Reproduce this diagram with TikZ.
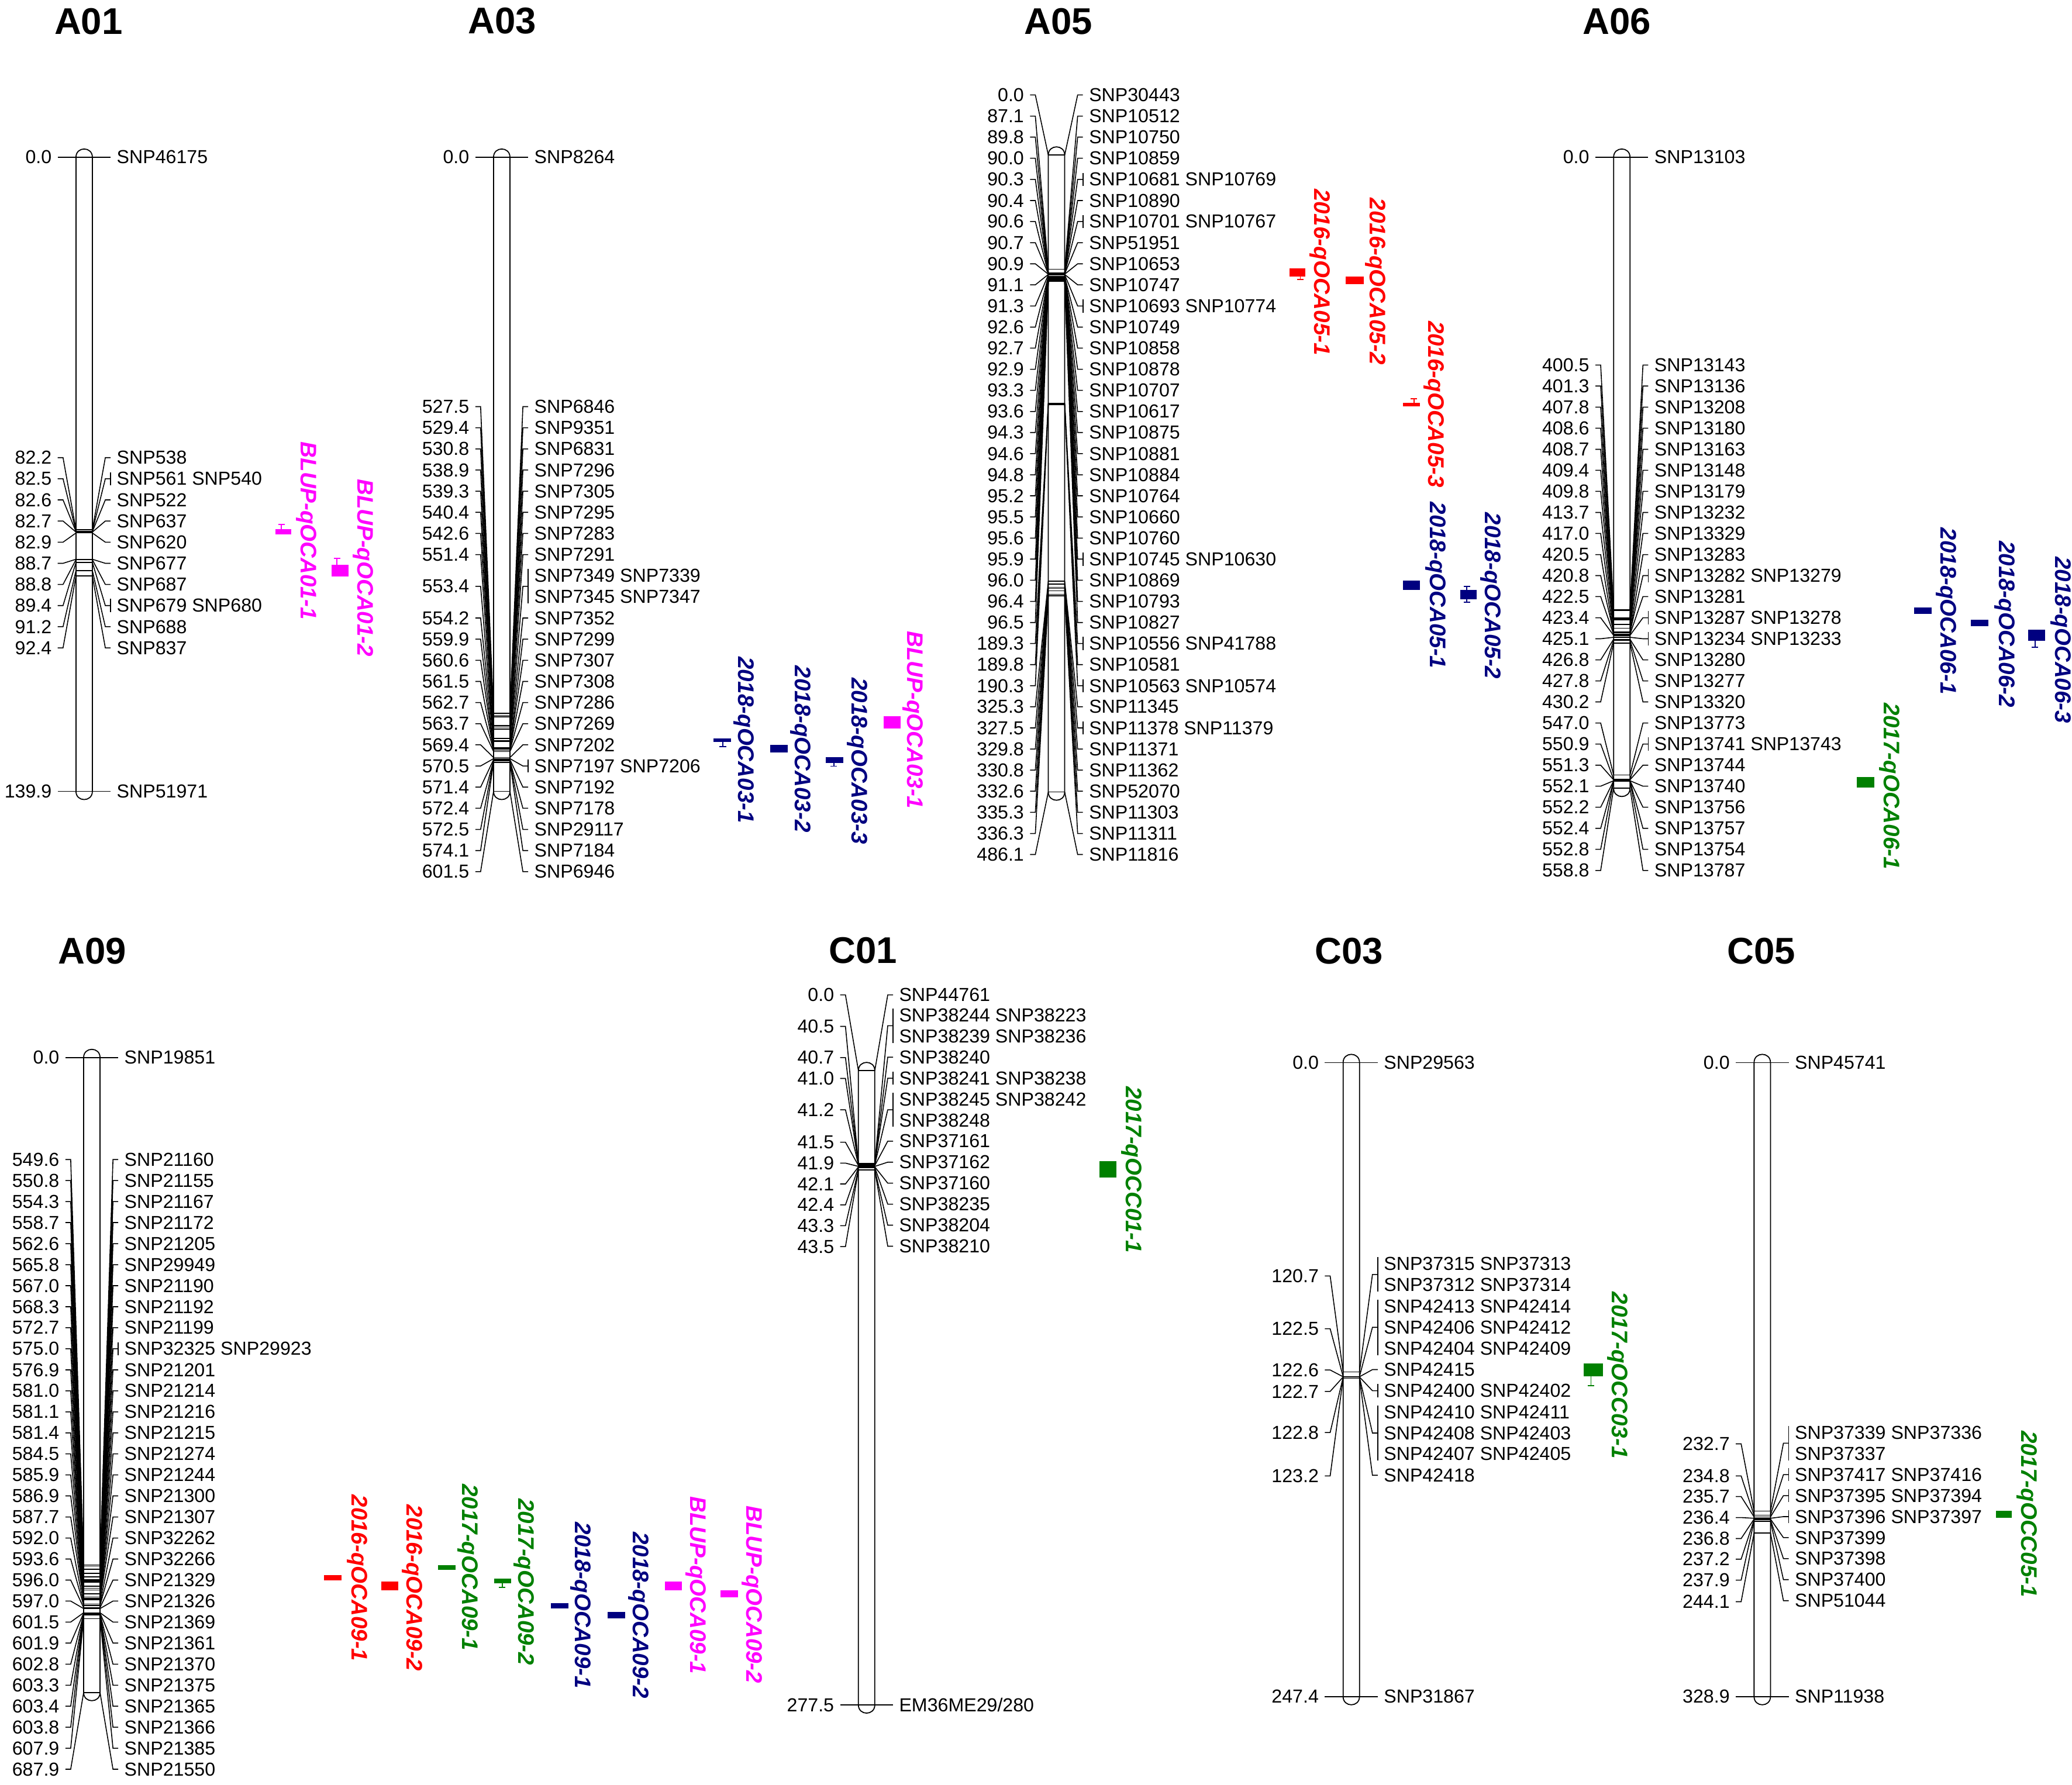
\documentclass[tikz,border=0pt]{standalone}
\usepackage{fontspec}
\setmainfont{Liberation Sans}
\definecolor{qtlred}{RGB}{255,0,0}
\definecolor{qtlgreen}{RGB}{0,128,0}
\definecolor{qtlnavy}{RGB}{0,0,128}
\definecolor{qtlpink}{RGB}{255,0,255}

\tikzset{
  chrom/.style={draw, fill=white, line width=0.45pt},
  link/.style={line width=0.4pt},
  posnum/.style={font=\fontsize{8.1}{9.03}\selectfont, inner sep=0pt},
  snpname/.style={font=\fontsize{8.1}{9.03}\selectfont, inner sep=0pt, align=left},
  chrname/.style={font=\fontsize{16}{18}\selectfont\bfseries, inner sep=0pt},
  qtlname/.style={font=\fontsize{9.7}{11}\selectfont\bfseries\itshape, rotate=-90, inner sep=0pt},
}

% linkage group bar: x, top, bottom, length (cM)
\newcommand{\linkgroup}[4]{%
  \def\chrx{#1}\def\chrt{#2}\def\chrb{#3}\def\chrl{#4}%
  \draw[chrom] (#1-6.2,#2) -- (#1-6.2,#3)
    .. controls (#1-6.2,#3+8.3) and (#1+6.2,#3+8.3) .. (#1+6.2,#3)
    -- (#1+6.2,#2) .. controls (#1+6.2,#2-8.3) and (#1-6.2,#2-8.3) .. cycle;}

% one marker: cM, left row, right row, bracket half height, names
\newcommand{\snpmark}[5]{%
  \pgfmathsetmacro\mky{\chrt+#1/\chrl*(\chrb-\chrt)}%
  \draw[link] (\chrx-6.2,\mky) -- (\chrx+6.2,\mky);
  \draw[link] (\chrx-6.2,\mky) -- (\chrx-16,#2) -- (\chrx-20,#2);
  \draw[link] (\chrx+6.2,\mky) -- (\chrx+16,#3) -- (\chrx+20,#3);
  \ifdim #4pt>0pt \draw[link] (\chrx+20,#3-#4) -- (\chrx+20,#3+#4);\fi
  \node[posnum, anchor=east] at (\chrx-24.3,#2) {#1};
  \node[snpname, anchor=west] at (\chrx+24.3,#3) {#5};}

% QTL: colour, box x1, x2, y1, y2, label x, label y, name
\newcommand{\qtlbox}[8]{%
  \fill[#1] (#2,#4) rectangle (#3,#5);
  \node[qtlname, text=#1] at (#6,#7) {#8};}
\newcommand{\qtlwhisk}[4]{%
  \draw[#1, line width=0.45pt] (#2,#3) -- (#2,#4) (#2-2.5,#4) -- (#2+2.5,#4);}

\newcommand{\emlab}{EM36ME29/280}

\begin{document}
\begin{tikzpicture}[x=0.02cm, y=-0.02cm]
\useasboundingbox (0,0) rectangle (1568,1351);

% group titles
\node[chrname] (tA01) at (67,16) {A01};
\node[chrname] (tA03) at (380,16) {A03};
\node[chrname] (tA05) at (801,16) {A05};
\node[chrname] (tA06) at (1223.5,16) {A06};
\node[chrname] (tA09) at (69.7,720) {A09};
\node[chrname] (tC01) at (653,719.5) {C01};
\node[chrname] (tC03) at (1021,720) {C03};
\node[chrname] (tC05) at (1333,720) {C05};

% A01
\linkgroup{63.7}{119}{599}{139.9}
\foreach \mpos/\lrow/\rrow/\brk/\names in {
  0.0/119/119/0/SNP46175, 82.2/346.4/346.4/0/SNP538,
  82.5/362.4/362.4/5/SNP561 SNP540, 82.6/378.4/378.4/0/SNP522,
  82.7/394.4/394.4/0/SNP637, 82.9/410.4/410.4/0/SNP620,
  88.7/426.4/426.4/0/SNP677, 88.8/442.4/442.4/0/SNP687,
  89.4/458.4/458.4/5/SNP679 SNP680, 91.2/474.4/474.4/0/SNP688,
  92.4/490.4/490.4/0/SNP837, 139.9/599/599/0/SNP51971}
  {\snpmark{\mpos}{\lrow}{\rrow}{\brk}{\names}}
\qtlbox{qtlpink}{208.5}{220.3}{400.5}{404.4}{231.7}{401.7}{BLUP-qOCA01-1}
\qtlwhisk{qtlpink}{213}{400.5}{397}
\qtlbox{qtlpink}{251}{263.8}{427.4}{436.3}{275}{429.8}{BLUP-qOCA01-2}
\qtlwhisk{qtlpink}{255}{427.4}{422.5}

% A03
\linkgroup{379.7}{119}{599}{601.5}
\foreach \mpos/\lrow/\rrow/\brk/\names in {
  0.0/119/119/0/SNP8264, 527.5/307.8/307.8/0/SNP6846,
  529.4/323.8/323.8/0/SNP9351, 530.8/339.8/339.8/0/SNP6831,
  538.9/355.8/355.8/0/SNP7296, 539.3/371.8/371.8/0/SNP7305,
  540.4/387.8/387.8/0/SNP7295, 542.6/403.8/403.8/0/SNP7283,
  551.4/419.8/419.8/0/SNP7291,
  553.4/443.8/443.8/13/SNP7349 SNP7339\\SNP7345 SNP7347,
  554.2/467.8/467.8/0/SNP7352, 559.9/483.8/483.8/0/SNP7299,
  560.6/499.8/499.8/0/SNP7307, 561.5/515.8/515.8/0/SNP7308,
  562.7/531.8/531.8/0/SNP7286, 563.7/547.8/547.8/0/SNP7269,
  569.4/563.8/563.8/0/SNP7202, 570.5/579.8/579.8/5/SNP7197 SNP7206,
  571.4/595.8/595.8/0/SNP7192, 572.4/611.8/611.8/0/SNP7178,
  572.5/627.8/627.8/0/SNP29117, 574.1/643.8/643.8/0/SNP7184,
  601.5/659.8/659.8/0/SNP6946}
  {\snpmark{\mpos}{\lrow}{\rrow}{\brk}{\names}}
\qtlbox{qtlnavy}{540}{553}{558.8}{561.7}{562.7}{560}{2018-qOCA03-1}
\qtlwhisk{qtlnavy}{547}{561.7}{565}
\qtlbox{qtlnavy}{583}{596}{563.7}{569.6}{606}{567}{2018-qOCA03-2}
\qtlbox{qtlnavy}{625}{638}{573}{577.5}{648.6}{576}{2018-qOCA03-3}
\qtlwhisk{qtlnavy}{631}{577.5}{580}
\qtlbox{qtlpink}{668.5}{681.5}{542.3}{551.5}{691}{545}{BLUP-qOCA03-1}

% A05
\linkgroup{799.5}{117.4}{599.5}{486.1}
\foreach \mpos/\lrow/\rrow/\brk/\names in {
  0.0/71.9/71.9/0/SNP30443, 87.1/87.9/87.9/0/SNP10512,
  89.8/103.8/103.8/0/SNP10750, 90.0/119.8/119.8/0/SNP10859,
  90.3/135.8/135.8/5/SNP10681 SNP10769, 90.4/151.8/151.8/0/SNP10890,
  90.6/167.7/167.7/5/SNP10701 SNP10767, 90.7/183.7/183.7/0/SNP51951,
  90.9/199.7/199.7/0/SNP10653, 91.1/215.6/215.6/0/SNP10747,
  91.3/231.6/231.6/5/SNP10693 SNP10774, 92.6/247.6/247.6/0/SNP10749,
  92.7/263.5/263.5/0/SNP10858, 92.9/279.5/279.5/0/SNP10878,
  93.3/295.5/295.5/0/SNP10707, 93.6/311.5/311.5/0/SNP10617,
  94.3/327.4/327.4/0/SNP10875, 94.6/343.4/343.4/0/SNP10881,
  94.8/359.4/359.4/0/SNP10884, 95.2/375.3/375.3/0/SNP10764,
  95.5/391.3/391.3/0/SNP10660, 95.6/407.3/407.3/0/SNP10760,
  95.9/423.2/423.2/5/SNP10745 SNP10630, 96.0/439.2/439.2/0/SNP10869,
  96.4/455.2/455.2/0/SNP10793, 96.5/471.2/471.2/0/SNP10827,
  189.3/487.1/487.1/5/SNP10556 SNP41788, 189.8/503.1/503.1/0/SNP10581,
  190.3/519.1/519.1/5/SNP10563 SNP10574, 325.3/535.0/535.0/0/SNP11345,
  327.5/551.0/551.0/5/SNP11378 SNP11379, 329.8/567.0/567.0/0/SNP11371,
  330.8/582.9/582.9/0/SNP11362, 332.6/598.9/598.9/0/SNP52070,
  335.3/614.9/614.9/0/SNP11303, 336.3/630.9/630.9/0/SNP11311,
  486.1/646.8/646.8/0/SNP11816}
  {\snpmark{\mpos}{\lrow}{\rrow}{\brk}{\names}}
\qtlbox{qtlred}{976}{988}{203.3}{209.2}{999}{206}{2016-qOCA05-1}
\qtlwhisk{qtlred}{984}{209.2}{211.5}
\qtlbox{qtlred}{1018.5}{1032}{209.2}{215.1}{1041}{213}{2016-qOCA05-2}
\qtlbox{qtlred}{1061.7}{1074.4}{305}{307.5}{1085}{306}{2016-qOCA05-3}
\qtlwhisk{qtlred}{1070}{305}{302}
\qtlbox{qtlnavy}{1061.7}{1074.4}{439.6}{446.4}{1086.5}{443}{2018-qOCA05-1}
\qtlbox{qtlnavy}{1105}{1117.6}{446.5}{453.5}{1128}{451}{2018-qOCA05-2}
\qtlwhisk{qtlnavy}{1110}{446.5}{444}
\qtlwhisk{qtlnavy}{1110}{453.5}{456}

% A06
\linkgroup{1227.3}{119}{596.7}{558.8}
\foreach \mpos/\lrow/\rrow/\brk/\names in {
  0.0/119/119/0/SNP13103, 400.5/276.3/276.3/0/SNP13143,
  401.3/292.2/292.2/0/SNP13136, 407.8/308.2/308.2/0/SNP13208,
  408.6/324.1/324.1/0/SNP13180, 408.7/340.1/340.1/0/SNP13163,
  409.4/356.0/356.0/0/SNP13148, 409.8/371.9/371.9/0/SNP13179,
  413.7/387.9/387.9/0/SNP13232, 417.0/403.8/403.8/0/SNP13329,
  420.5/419.8/419.8/0/SNP13283, 420.8/435.7/435.7/5/SNP13282 SNP13279,
  422.5/451.6/451.6/0/SNP13281, 423.4/467.6/467.6/5/SNP13287 SNP13278,
  425.1/483.5/483.5/5/SNP13234 SNP13233, 426.8/499.5/499.5/0/SNP13280,
  427.8/515.4/515.4/0/SNP13277, 430.2/531.3/531.3/0/SNP13320,
  547.0/547.3/547.3/0/SNP13773, 550.9/563.2/563.2/5/SNP13741 SNP13743,
  551.3/579.2/579.2/0/SNP13744, 552.1/595.1/595.1/0/SNP13740,
  552.2/611.0/611.0/0/SNP13756, 552.4/627.0/627.0/0/SNP13757,
  552.8/642.9/642.9/0/SNP13754, 558.8/658.9/658.9/0/SNP13787}
  {\snpmark{\mpos}{\lrow}{\rrow}{\brk}{\names}}
\qtlbox{qtlnavy}{1448.3}{1461.7}{459.8}{464.6}{1473}{462.6}{2018-qOCA06-1}
\qtlbox{qtlnavy}{1491.2}{1504.6}{469.1}{473.9}{1517}{472.5}{2018-qOCA06-2}
\qtlbox{qtlnavy}{1534.6}{1547.5}{476.7}{485.2}{1559.5}{484.5}{2018-qOCA06-3}
\qtlwhisk{qtlnavy}{1540}{485.2}{490}
\qtlbox{qtlgreen}{1404.9}{1418.3}{588.2}{596.1}{1430}{595}{2017-qOCA06-1}

% A09
\linkgroup{69.5}{800.5}{1281.1}{687.9}
\foreach \mpos/\lrow/\rrow/\brk/\names in {
  0.0/800.5/800.5/0/SNP19851, 549.6/877.7/877.7/0/SNP21160,
  550.8/893.6/893.6/0/SNP21155, 554.3/909.5/909.5/0/SNP21167,
  558.7/925.4/925.4/0/SNP21172, 562.6/941.4/941.4/0/SNP21205,
  565.8/957.3/957.3/0/SNP29949, 567.0/973.2/973.2/0/SNP21190,
  568.3/989.1/989.1/0/SNP21192, 572.7/1005.0/1005.0/0/SNP21199,
  575.0/1020.9/1020.9/5/SNP32325 SNP29923, 576.9/1036.9/1036.9/0/SNP21201,
  581.0/1052.8/1052.8/0/SNP21214, 581.1/1068.7/1068.7/0/SNP21216,
  581.4/1084.6/1084.6/0/SNP21215, 584.5/1100.5/1100.5/0/SNP21274,
  585.9/1116.4/1116.4/0/SNP21244, 586.9/1132.3/1132.3/0/SNP21300,
  587.7/1148.3/1148.3/0/SNP21307, 592.0/1164.2/1164.2/0/SNP32262,
  593.6/1180.1/1180.1/0/SNP32266, 596.0/1196.0/1196.0/0/SNP21329,
  597.0/1211.9/1211.9/0/SNP21326, 601.5/1227.8/1227.8/0/SNP21369,
  601.9/1243.7/1243.7/0/SNP21361, 602.8/1259.7/1259.7/0/SNP21370,
  603.3/1275.6/1275.6/0/SNP21375, 603.4/1291.5/1291.5/0/SNP21365,
  603.8/1307.4/1307.4/0/SNP21366, 607.9/1323.3/1323.3/0/SNP21385,
  687.9/1339.2/1339.2/0/SNP21550}
  {\snpmark{\mpos}{\lrow}{\rrow}{\brk}{\names}}
\qtlbox{qtlred}{245.3}{258.5}{1192.2}{1196.1}{270.5}{1194.5}{2016-qOCA09-1}
\qtlbox{qtlred}{288.4}{301.6}{1197.2}{1203.8}{312}{1202}{2016-qOCA09-2}
\qtlbox{qtlgreen}{331.6}{344.9}{1184.6}{1188.3}{354}{1186.4}{2017-qOCA09-1}
\qtlbox{qtlgreen}{374.1}{386.8}{1194.9}{1198.6}{396.5}{1197.5}{2017-qOCA09-2}
\qtlwhisk{qtlgreen}{380}{1198.6}{1201.5}
\qtlbox{qtlnavy}{416.8}{430}{1213.3}{1217.3}{439.6}{1215}{2018-qOCA09-1}
\qtlbox{qtlnavy}{460}{473.2}{1220}{1225.1}{483.4}{1222.6}{2018-qOCA09-2}
\qtlbox{qtlpink}{503.2}{515.9}{1197.2}{1203.8}{526.5}{1200}{BLUP-qOCA09-1}
\qtlbox{qtlpink}{545.2}{558.3}{1203.8}{1209}{569}{1207}{BLUP-qOCA09-2}

% C01
\linkgroup{655.8}{810.4}{1290.5}{277.5}
\foreach \mpos/\lrow/\rrow/\brk/\names in {
  0.0/753.1/753.1/0/SNP44761,
  40.5/776.9/776.4/13/SNP38244 SNP38223\\SNP38239 SNP38236,
  40.7/800.5/800.2/0/SNP38240, 41.0/816.3/816.1/5/SNP38241 SNP38238,
  41.2/840/840/13/SNP38245 SNP38242\\SNP38248,
  41.5/864.6/863.8/0/SNP37161, 41.9/880.4/879.7/0/SNP37162,
  42.1/896.2/895.6/0/SNP37160, 42.4/912/911.5/0/SNP38235,
  43.3/927.8/927.4/0/SNP38204, 43.5/943.6/943.3/0/SNP38210,
  277.5/1290.5/1290.5/0/\emlab}
  {\snpmark{\mpos}{\lrow}{\rrow}{\brk}{\names}}
\qtlbox{qtlgreen}{832.2}{845}{878.8}{891.4}{856.4}{885.5}{2017-qOCC01-1}

% C03
\linkgroup{1022.6}{804.3}{1284.2}{247.4}
\foreach \mpos/\lrow/\rrow/\brk/\names in {
  0.0/804.3/804.3/0/SNP29563,
  120.7/965.8/964.7/13/SNP37315 SNP37313\\SNP37312 SNP37314,
  122.5/1005.8/1004.7/21/SNP42413 SNP42414\\SNP42406 SNP42412\\SNP42404 SNP42409,
  122.6/1037/1036.7/0/SNP42415, 122.7/1053.2/1052.7/5/SNP42400 SNP42402,
  122.8/1084.3/1084.7/21/SNP42410 SNP42411\\SNP42408 SNP42403\\SNP42407 SNP42405,
  123.2/1117.2/1116.7/0/SNP42418, 247.4/1284.2/1284.2/0/SNP31867}
  {\snpmark{\mpos}{\lrow}{\rrow}{\brk}{\names}}
\qtlbox{qtlgreen}{1198.4}{1213}{1031.9}{1042}{1224}{1041}{2017-qOCC03-1}
\qtlwhisk{qtlgreen}{1204}{1042}{1048.8}

% C05
\linkgroup{1333.6}{804.3}{1284.2}{328.9}
\foreach \mpos/\lrow/\rrow/\brk/\names in {
  0.0/804.3/804.3/0/SNP45741,
  232.7/1092.9/1092.4/13/SNP37339 SNP37336\\SNP37337,
  234.8/1117.2/1116.2/5/SNP37417 SNP37416, 235.7/1132.8/1132.1/5/SNP37395 SNP37394,
  236.4/1148.7/1148/5/SNP37396 SNP37397, 236.8/1164.6/1163.9/0/SNP37399,
  237.2/1180.2/1179.8/0/SNP37398, 237.9/1196.1/1195.7/0/SNP37400,
  244.1/1212.4/1211.6/0/SNP51044, 328.9/1284.2/1284.2/0/SNP11938}
  {\snpmark{\mpos}{\lrow}{\rrow}{\brk}{\names}}
\qtlbox{qtlgreen}{1510.6}{1522.4}{1143.6}{1148.7}{1534}{1146}{2017-qOCC05-1}
\end{tikzpicture}
\end{document}
